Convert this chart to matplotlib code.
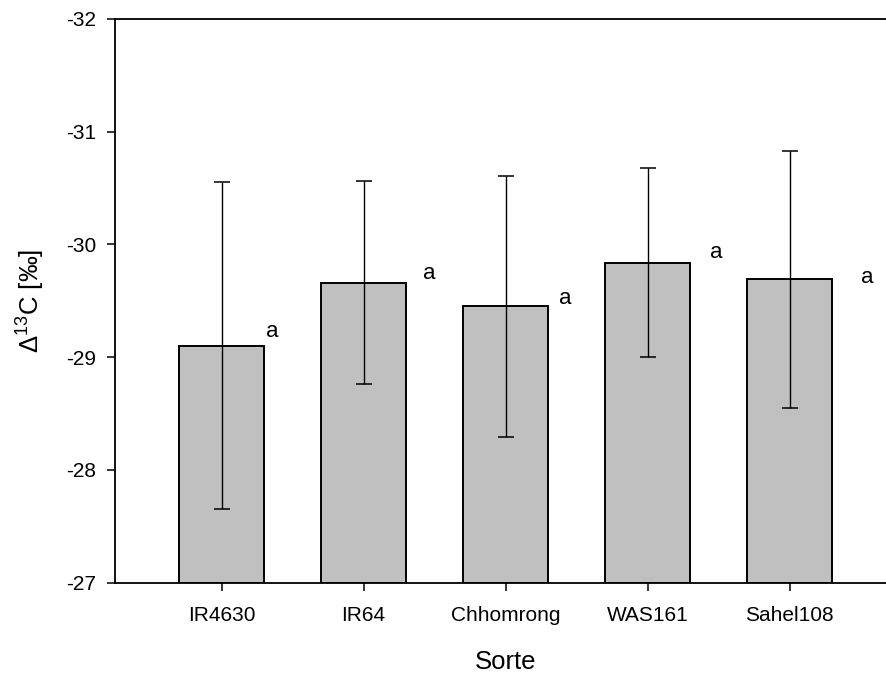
import matplotlib
matplotlib.use("Agg")
import matplotlib.pyplot as plt
import numpy as np

plt.rcParams['font.family'] = ['Liberation Sans', 'DejaVu Sans']
plt.rcParams['mathtext.fontset'] = 'custom'
plt.rcParams['mathtext.rm'] = 'Liberation Sans'
plt.rcParams['mathtext.it'] = 'Liberation Sans'

categories = ["IR4630", "IR64", "Chhomrong", "WAS161", "Sahel108"]
means = [-29.10, -29.66, -29.45, -29.84, -29.69]
errors = [1.45, 0.90, 1.155, 0.84, 1.14]
letters = ["a", "a", "a", "a", "a"]
letter_x = [0.31, 1.42, 2.38, 3.44, 4.50]
letter_y = [-29.23, -29.74, -29.52, -29.93, -29.71]
yticks = [-32, -31, -30, -29, -28, -27]
baseline = -27

fig = plt.figure(figsize=(8.86, 6.75), dpi=100)
ax = fig.add_axes([115/886, 92.3/675, (896-115)/886, (582.7-19)/675])

x = np.arange(len(categories))
heights = [m - baseline for m in means]
ax.bar(x, heights, bottom=baseline, width=0.6, color='#c0c0c0',
       edgecolor='black', linewidth=1.4, zorder=2)
ax.errorbar(x, means, yerr=errors, fmt='none', ecolor='black',
            elinewidth=1.0, capsize=5.8, capthick=1.1, zorder=3)
for lx, ly, t in zip(letter_x, letter_y, letters):
    ax.text(lx, ly, t, fontsize=16, ha='left', va='center')

ax.set_xlim(-0.75, 4.75)
ax.set_ylim(-27, -32)
ax.set_yticks(yticks)
ax.set_yticklabels([str(v) for v in yticks])
ax.set_xticks(x)
ax.set_xticklabels(categories)
ax.spines['right'].set_visible(False)
for s in ['left', 'top', 'bottom']:
    ax.spines[s].set_linewidth(1.3)
ax.tick_params(axis='both', direction='out', length=6, width=1.1,
               labelsize=15)
ax.tick_params(axis='y', pad=7.5)
ax.tick_params(axis='x', pad=10.5)
ax.set_xlabel("Sorte", fontsize=18.5, labelpad=18)
ax.set_ylabel(r"$\Delta^{13}$C [‰]", fontsize=18.5, labelpad=14)

fig.savefig("out.png", dpi=100)
